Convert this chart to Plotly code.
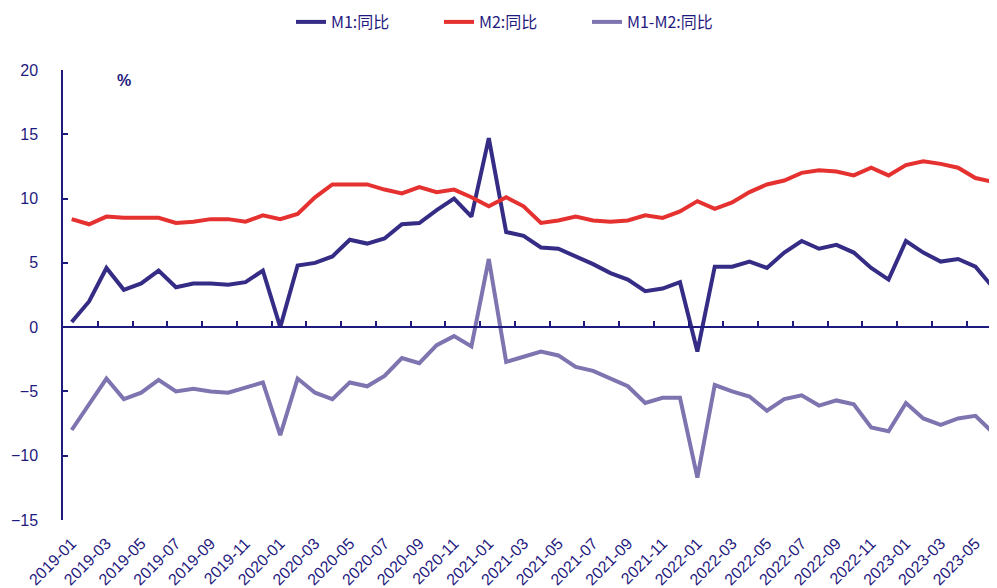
import plotly.graph_objects as go

months = [f"{y}-{m:02d}" for y in range(2019, 2024) for m in range(1, 13)][:54]

m1 = [0.4, 2.0, 4.6, 2.9, 3.4, 4.4, 3.1, 3.4, 3.4, 3.3, 3.5, 4.4,
      0.0, 4.8, 5.0, 5.5, 6.8, 6.5, 6.9, 8.0, 8.1, 9.1, 10.0, 8.6,
      14.7, 7.4, 7.1, 6.2, 6.1, 5.5, 4.9, 4.2, 3.7, 2.8, 3.0, 3.5,
      -1.9, 4.7, 4.7, 5.1, 4.6, 5.8, 6.7, 6.1, 6.4, 5.8, 4.6, 3.7,
      6.7, 5.8, 5.1, 5.3, 4.7, 3.1]
m2 = [8.4, 8.0, 8.6, 8.5, 8.5, 8.5, 8.1, 8.2, 8.4, 8.4, 8.2, 8.7,
      8.4, 8.8, 10.1, 11.1, 11.1, 11.1, 10.7, 10.4, 10.9, 10.5, 10.7, 10.1,
      9.4, 10.1, 9.4, 8.1, 8.3, 8.6, 8.3, 8.2, 8.3, 8.7, 8.5, 9.0,
      9.8, 9.2, 9.7, 10.5, 11.1, 11.4, 12.0, 12.2, 12.1, 11.8, 12.4, 11.8,
      12.6, 12.9, 12.7, 12.4, 11.6, 11.3]
m1_m2 = [-8.0, -6.0, -4.0, -5.6, -5.1, -4.1, -5.0, -4.8, -5.0, -5.1, -4.7, -4.3,
         -8.4, -4.0, -5.1, -5.6, -4.3, -4.6, -3.8, -2.4, -2.8, -1.4, -0.7, -1.5,
         5.3, -2.7, -2.3, -1.9, -2.2, -3.1, -3.4, -4.0, -4.6, -5.9, -5.5, -5.5,
         -11.7, -4.5, -5.0, -5.4, -6.5, -5.6, -5.3, -6.1, -5.7, -6.0, -7.8, -8.1,
         -5.9, -7.1, -7.6, -7.1, -6.9, -8.2]

series_names = ["M1:同比", "M2:同比", "M1-M2:同比"]
colors = ["#352c85", "#e5312f", "#7d74b0"]
tick_labels = months[::2]
y_ticks = [20, 15, 10, 5, 0, -5, -10, -15]

navy = "#1f1a7e"
font_main = "Liberation Sans, Arial, sans-serif"

fig = go.Figure()
for name, vals, col in zip(series_names, [m1, m2, m1_m2], colors):
    fig.add_trace(go.Scatter(x=months, y=vals, mode="lines", name=name,
                             line=dict(color=col, width=4)))

# helper trace to keep the secondary x axis (zero line ticks) alive
fig.add_trace(go.Scatter(x=[0], y=[None], xaxis="x2", showlegend=False,
                         hoverinfo="skip", mode="lines"))

n = len(months)
xr = [-0.5, 53.24]
# page body has an 8px margin, so the figure is sized/offset to compensate
W, H = 989, 580
fig.update_layout(
    width=W, height=H,
    margin=dict(l=55, r=0, t=62, b=68, autoexpand=False),
    plot_bgcolor="white", paper_bgcolor="white",
    showlegend=True,
    legend=dict(orientation="h", x=505 / W, xanchor="center", xref="container",
                y=1 - 14 / H, yanchor="middle", yref="container",
                font=dict(family="Noto Sans CJK SC, sans-serif", size=16, color=navy),
                entrywidth=103, entrywidthmode="pixels", itemwidth=30,
                tracegroupgap=0),
    xaxis=dict(type="category", range=xr, tickmode="array",
               tickvals=tick_labels, ticktext=tick_labels, tickangle=-45,
               showgrid=False, showline=False, zeroline=False, ticks="",
               ticklabelstandoff=10, automargin=False,
               tickfont=dict(family=font_main, size=16, color=navy)),
    xaxis2=dict(type="linear", overlaying="x", anchor="free", position=15/35,
                side="bottom", range=xr, tickmode="array",
                tickvals=[i + 0.5 for i in range(1, n, 2)],
                showticklabels=False, ticks="inside", ticklen=5, tickwidth=1.5,
                tickcolor=navy, showline=True, linecolor=navy, linewidth=1.5,
                showgrid=False, zeroline=False, automargin=False),
    yaxis=dict(range=[-15, 20], tickmode="array", tickvals=y_ticks,
               showgrid=False, zeroline=False, showline=True, linecolor=navy,
               linewidth=1.5, ticks="inside", ticklen=5, tickwidth=1.5, tickcolor=navy,
               ticklabelstandoff=20, automargin=False,
               tickfont=dict(family=font_main, size=16, color=navy)),
    annotations=[dict(text="<b>%</b>", x=3, xref="x", y=19.2, yref="y",
                      showarrow=False, font=dict(family=font_main, size=16, color=navy))],
)

fig.write_html("out.html")
